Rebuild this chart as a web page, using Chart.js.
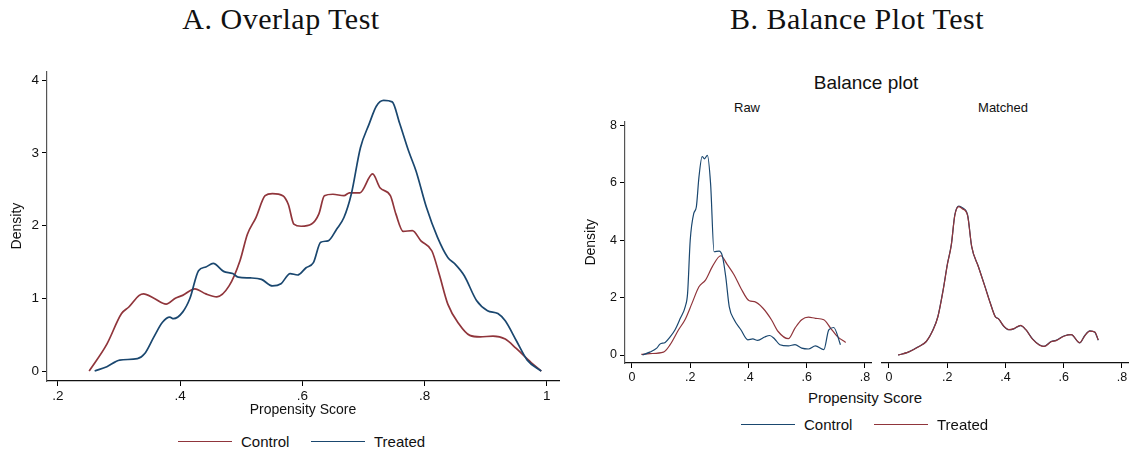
<!DOCTYPE html>
<html>
<head>
<meta charset="utf-8">
<script src="https://cdn.jsdelivr.net/npm/chart.js@4.4.1/dist/chart.umd.min.js"></script>
<style>
  body { margin: 0; background: #fff; }
  #wrap { position: relative; width: 1131px; height: 456px; overflow: hidden; font-family: "Liberation Sans", Arial, sans-serif; color: #111; }
  .txt { position: absolute; transform: translate(-50%, -50%); white-space: nowrap; line-height: 1; }
  .serif { font-family: "Liberation Serif", "DejaVu Serif", serif; font-size: 30px; letter-spacing: 0.5px; color: #111; }
  .box { position: absolute; }
  .sw { position: absolute; height: 0; }
  .lg { position: absolute; transform: translateY(-50%); font-size: 15px; line-height: 1; }
</style>
</head>
<body>
<div id="wrap">
  <div class="txt serif" style="left:281px;top:19px;">A. Overlap Test</div>
  <div class="txt serif" style="left:857px;top:19px;">B. Balance Plot Test</div>
  <div class="txt" style="left:866px;top:82px;font-size:19px;">Balance plot</div>
  <div class="txt" style="left:747px;top:107px;font-size:13px;">Raw</div>
  <div class="txt" style="left:1003px;top:107px;font-size:13px;">Matched</div>
  <div class="txt" style="left:865px;top:397px;font-size:15px;">Propensity Score</div>

  <div class="box" style="left:0;top:60px;"><canvas id="chartA" width="570" height="361"></canvas></div>
  <div class="box" style="left:580px;top:111px;"><canvas id="chartRaw" width="295" height="277"></canvas></div>
  <div class="box" style="left:872px;top:111px;"><canvas id="chartMatched" width="259" height="277"></canvas></div>

  <div class="sw" style="left:178px;top:441px;width:54px;border-top:1.5px solid #90353b;"></div>
  <div class="lg" style="left:241px;top:441px;">Control</div>
  <div class="sw" style="left:311px;top:441px;width:54px;border-top:1.5px solid #1a476f;"></div>
  <div class="lg" style="left:374px;top:441px;">Treated</div>

  <div class="sw" style="left:741px;top:424px;width:54px;border-top:1.2px solid #1a476f;"></div>
  <div class="lg" style="left:804px;top:424px;">Control</div>
  <div class="sw" style="left:874px;top:424px;width:54px;border-top:1.2px solid #90353b;"></div>
  <div class="lg" style="left:937px;top:424px;">Treated</div>
</div>
<script>
const red = "#90353b";
const blue = "#1a476f";

// A. Overlap test
const xTicksA = [0.2, 0.4, 0.6, 0.8, 1];
const xLabelsA = [".2", ".4", ".6", ".8", "1"];
const yTicksA = [0, 1, 2, 3, 4];

const controlAx = [0.251, 0.280, 0.304, 0.316, 0.333, 0.340, 0.357, 0.377, 0.392, 0.404, 0.424, 0.442, 0.460, 0.480, 0.498, 0.510, 0.524, 0.539, 0.551, 0.568, 0.577, 0.586, 0.598, 0.615, 0.627, 0.636, 0.650, 0.668, 0.677, 0.694, 0.715, 0.727, 0.744, 0.753, 0.765, 0.780, 0.794, 0.812, 0.824, 0.838, 0.856, 0.874, 0.891, 0.912, 0.932, 0.950, 0.974, 0.991];
const controlAy = [0, 0.37, 0.79, 0.88, 1.04, 1.06, 1.00, 0.92, 1.00, 1.04, 1.13, 1.06, 1.02, 1.17, 1.52, 1.88, 2.11, 2.41, 2.44, 2.41, 2.29, 2.02, 1.99, 2.02, 2.16, 2.41, 2.43, 2.41, 2.45, 2.45, 2.71, 2.52, 2.41, 2.16, 1.92, 1.93, 1.79, 1.65, 1.33, 0.92, 0.65, 0.49, 0.47, 0.48, 0.44, 0.31, 0.12, 0];

const treatedAx = [0.260, 0.280, 0.301, 0.330, 0.342, 0.357, 0.371, 0.383, 0.389, 0.404, 0.416, 0.430, 0.442, 0.454, 0.471, 0.486, 0.495, 0.515, 0.533, 0.551, 0.565, 0.580, 0.592, 0.606, 0.618, 0.630, 0.642, 0.656, 0.668, 0.680, 0.695, 0.709, 0.721, 0.733, 0.747, 0.759, 0.774, 0.786, 0.803, 0.821, 0.838, 0.850, 0.865, 0.885, 0.903, 0.920, 0.932, 0.950, 0.968, 0.991];
const treatedAy = [0, 0.06, 0.15, 0.17, 0.24, 0.47, 0.67, 0.74, 0.72, 0.81, 1.00, 1.38, 1.43, 1.48, 1.37, 1.34, 1.29, 1.28, 1.26, 1.17, 1.20, 1.34, 1.32, 1.42, 1.49, 1.77, 1.79, 1.95, 2.11, 2.43, 3.07, 3.39, 3.64, 3.72, 3.70, 3.41, 3.02, 2.75, 2.25, 1.84, 1.56, 1.47, 1.31, 0.97, 0.83, 0.79, 0.69, 0.42, 0.15, 0];

// B. Balance plot
const xTicksB = [0, 0.2, 0.4, 0.6, 0.8];
const xLabelsB = ["0", ".2", ".4", ".6", ".8"];
const yTicksB = [0, 2, 4, 6, 8];

const rawControlX = [0.036, 0.061, 0.085, 0.096, 0.114, 0.131, 0.148, 0.166, 0.183, 0.191, 0.200, 0.212, 0.221, 0.230, 0.241, 0.249, 0.259, 0.270, 0.282, 0.299, 0.311, 0.322, 0.334, 0.351, 0.374, 0.398, 0.415, 0.432, 0.456, 0.473, 0.490, 0.508, 0.537, 0.560, 0.583, 0.606, 0.630, 0.659, 0.676, 0.693, 0.716];
const rawControlY = [0, 0.10, 0.24, 0.38, 0.44, 0.63, 0.88, 1.28, 1.69, 2.15, 4.00, 4.93, 5.16, 6.20, 6.92, 6.84, 6.96, 5.97, 3.60, 3.62, 3.43, 2.73, 1.69, 1.23, 0.88, 0.53, 0.56, 0.51, 0.63, 0.68, 0.56, 0.36, 0.32, 0.36, 0.24, 0.21, 0.32, 0.19, 0.88, 0.96, 0.36];

const rawTreatedX = [0.032, 0.061, 0.108, 0.131, 0.160, 0.183, 0.206, 0.230, 0.253, 0.276, 0.305, 0.328, 0.351, 0.374, 0.403, 0.421, 0.450, 0.479, 0.502, 0.537, 0.560, 0.583, 0.606, 0.630, 0.659, 0.682, 0.705, 0.734];
const rawTreatedY = [0.02, 0.05, 0.10, 0.36, 0.88, 1.25, 1.80, 2.38, 2.62, 3.08, 3.46, 3.14, 2.79, 2.33, 1.89, 1.86, 1.63, 1.23, 0.82, 0.57, 0.94, 1.23, 1.32, 1.28, 1.23, 0.94, 0.65, 0.44];

const matchedX = [0.031, 0.064, 0.099, 0.128, 0.151, 0.168, 0.186, 0.201, 0.214, 0.226, 0.240, 0.252, 0.270, 0.284, 0.307, 0.330, 0.348, 0.365, 0.377, 0.394, 0.412, 0.429, 0.452, 0.470, 0.493, 0.516, 0.533, 0.557, 0.574, 0.603, 0.626, 0.655, 0.672, 0.690, 0.707, 0.719];
const matchedControlY = [0, 0.09, 0.28, 0.47, 0.88, 1.34, 2.27, 3.19, 3.83, 4.87, 5.18, 5.12, 4.87, 3.77, 3.08, 2.38, 1.81, 1.34, 1.25, 1.00, 0.88, 0.91, 1.02, 0.88, 0.56, 0.36, 0.30, 0.47, 0.51, 0.67, 0.71, 0.42, 0.67, 0.84, 0.79, 0.51];
const matchedTreatedY = [0, 0.09, 0.27, 0.47, 0.86, 1.33, 2.25, 3.17, 3.82, 4.85, 5.16, 5.09, 4.85, 3.78, 3.07, 2.36, 1.80, 1.33, 1.25, 1.01, 0.88, 0.92, 1.03, 0.88, 0.55, 0.35, 0.30, 0.46, 0.50, 0.66, 0.71, 0.43, 0.66, 0.83, 0.80, 0.52];

function points(xs, ys) {
  return xs.map((x, i) => ({ x: x, y: ys[i] }));
}

// order: lower number is drawn on top
function line(label, xs, ys, color, width, order) {
  return {
    label,
    data: points(xs, ys),
    borderColor: color,
    backgroundColor: color,
    borderWidth: width,
    pointRadius: 0,
    cubicInterpolationMode: "monotone",
    fill: false,
    order,
  };
}

function axisX(min, max, ticks, labels, fontSize, height, title) {
  return {
    type: "linear",
    min, max,
    afterBuildTicks: (s) => { s.ticks = ticks.map((v) => ({ value: v })); },
    afterFit: (s) => { s.height = height; },
    ticks: {
      color: "#111",
      font: { family: "Liberation Sans", size: fontSize },
      padding: 2,
      maxRotation: 0,
      autoSkip: false,
      callback: (v) => labels[ticks.indexOf(v)],
    },
    grid: { display: true, drawOnChartArea: false, drawTicks: true, tickLength: 5, tickColor: "#000" },
    border: { display: true, color: "#111", width: 1.2 },
    title: title ? { display: true, text: title, color: "#111", font: { family: "Liberation Sans", size: 14 }, padding: { top: 0, bottom: 2 } } : { display: false },
  };
}

function axisY(min, max, ticks, fontSize, width, titlePad, show) {
  return {
    display: show,
    min, max,
    afterBuildTicks: (s) => { s.ticks = ticks.map((v) => ({ value: v })); },
    afterFit: (s) => { s.width = width; },
    ticks: { color: "#111", font: { family: "Liberation Sans", size: fontSize }, padding: 3 },
    grid: { display: true, drawOnChartArea: false, drawTicks: true, tickLength: 5, tickColor: "#000" },
    border: { display: true, color: "#555", width: 1.2 },
    title: { display: true, text: "Density", color: "#111", font: { family: "Liberation Sans", size: 14 }, padding: { top: titlePad, bottom: 0 } },
  };
}

function baseOptions(scales, padding) {
  return {
    responsive: false,
    animation: false,
    layout: { padding },
    plugins: { legend: { display: false }, tooltip: { enabled: false } },
    scales,
  };
}

new Chart(document.getElementById("chartA"), {
  type: "line",
  data: {
    datasets: [
      line("Control", controlAx, controlAy, red, 1.7, 1),
      line("Treated", treatedAx, treatedAy, blue, 1.7, 0),
    ],
  },
  options: baseOptions({
    x: axisX(0.182, 1.02, xTicksA, xLabelsA, 13.5, 40, "Propensity Score"),
    y: axisY(-0.137, 4.123, yTicksA, 13.5, 47, 9, true),
  }, { top: 10, left: 0, right: 11, bottom: 0 }),
});

new Chart(document.getElementById("chartRaw"), {
  type: "line",
  data: {
    datasets: [
      line("Control", rawControlX, rawControlY, blue, 1.2, 0),
      line("Treated", rawTreatedX, rawTreatedY, red, 1.2, 1),
    ],
  },
  options: baseOptions({
    x: axisX(-0.024, 0.821, xTicksB, xLabelsB, 12.5, 25, null),
    y: axisY(-0.278, 8.14, yTicksB, 12.5, 45, 3, true),
  }, { top: 10, left: 0, right: 4, bottom: 0 }),
});

new Chart(document.getElementById("chartMatched"), {
  type: "line",
  data: {
    datasets: [
      line("Control", matchedX, matchedControlY, blue, 1.2, 1),
      line("Treated", matchedX, matchedTreatedY, red, 1.2, 0),
    ],
  },
  options: baseOptions({
    x: axisX(-0.024, 0.821, xTicksB, xLabelsB, 12.5, 25, null),
    y: axisY(-0.278, 8.14, yTicksB, 12.5, 0, 0, false),
  }, { top: 10, left: 10, right: 3, bottom: 0 }),
});
</script>
</body>
</html>
